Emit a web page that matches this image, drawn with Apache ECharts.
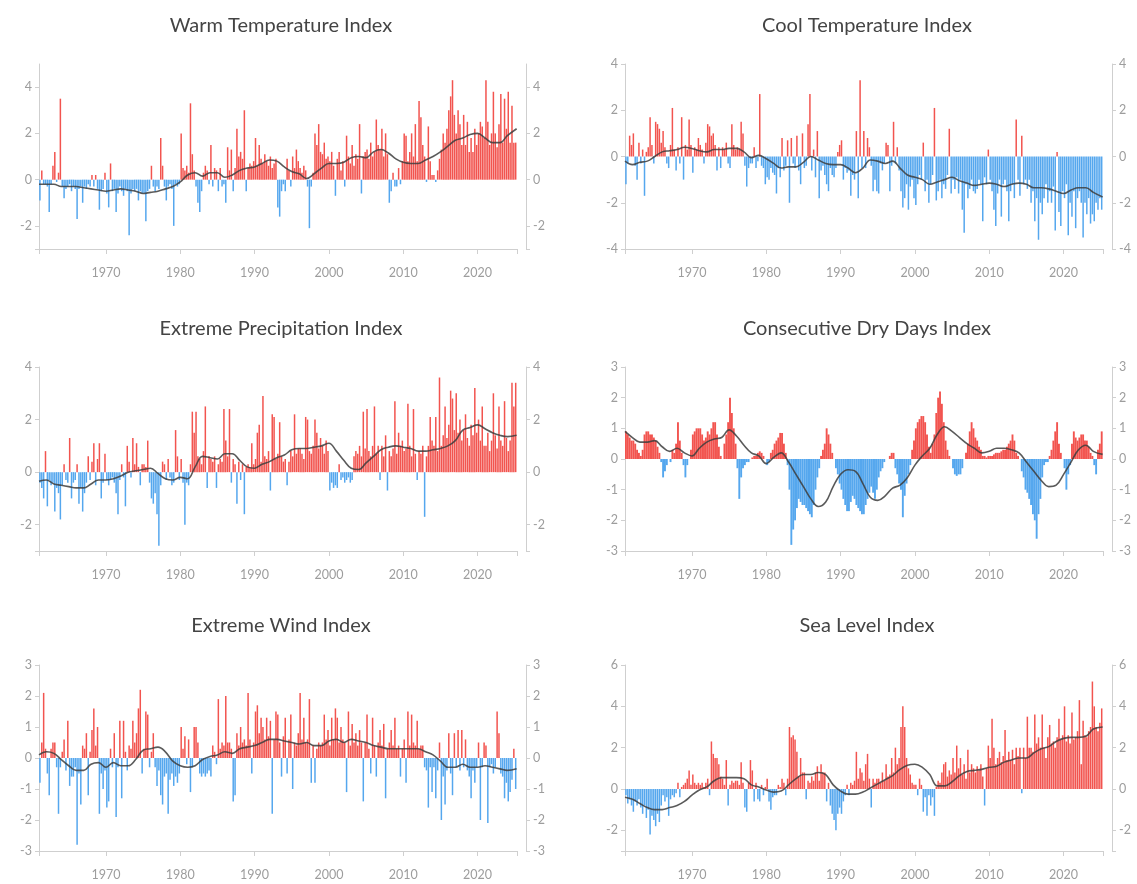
<!DOCTYPE html>
<html><head><meta charset="utf-8">
<script src="https://cdn.jsdelivr.net/npm/echarts@6/dist/echarts.min.js"></script>
<style>html,body{margin:0;padding:0;background:#fff}#c{width:1137px;height:884px}</style>
</head><body><div id="c"></div>
<script>
// Quarterly values, 1961 Q1 .. 2025 Q1 (one line per year)
const startYear = 1961;
const warmQ = [
-0.9,0.4,-0.2,-0.2, -0.3,-1.4,-0.2,0.6, 1.2,-0.1,0.3,3.5, -0.3,-0.8,-0.4,-0.3, -0.2,-0.5,-0.3,-0.4,
-1.7,-0.4,-0.3,-1.0, -0.3,-0.4,-0.2,-0.3, 0.2,-0.3,0.2,-0.4, -1.3,-0.5,-0.4,0.3,
-0.6,-1.2,0.7,-0.5, -0.4,-1.4,-0.6,-0.3, -0.5,-0.7,-0.4,-0.5, -2.4,-0.6,-0.4,-0.5, -0.4,-0.9,-0.5,-0.6,
-0.6,-1.8,-0.5,-0.4, 0.6,-0.3,-0.5,-0.3, -0.4,1.8,0.6,-0.3, -0.9,-0.3,-0.2,-0.4, -2.0,-0.2,-0.3,-0.2,
2.0,0.5,0.4,0.6, 0.3,3.3,1.1,0.4, -0.3,-1.0,-1.4,-0.5, 0.3,0.6,0.4,-0.2, 1.5,-0.3,0.5,0.4,
-0.5,0.5,-0.3,-0.2, -1.0,1.4,0.4,1.3, -0.5,0.5,2.2,1.0, 1.2,0.9,3.0,-0.5, 0.5,0.7,0.6,0.8,
1.8,0.6,1.5,0.9, 0.7,1.1,0.8,0.6, 1.0,0.5,0.7,0.9, -1.2,-1.6,-0.5,-0.2, -0.5,0.9,0.4,-0.3,
1.0,0.5,1.3,0.8, 0.5,0.3,0.6,0.4, -0.3,-2.1,-0.3,0.3, 2.0,1.5,2.4,1.2, 1.1,1.6,0.9,1.0,
0.8,1.2,0.6,-0.7, 0.9,1.2,0.4,0.8, -0.3,1.9,1.0,0.7, 1.5,0.6,1.1,0.9, 2.4,-0.6,1.0,1.2,
1.3,0.9,1.6,1.0, 1.2,2.6,1.5,1.3, 2.2,1.0,2.0,1.1, -1.0,-0.5,0.3,-0.3, -0.3,0.5,-0.2,0.8,
2.0,1.9,0.8,1.2, 2.0,1.0,2.4,0.8, 3.4,2.7,1.5,1.0, -0.1,2.3,0.8,0.2, 0.2,-0.1,0.4,0.9,
1.3,2.0,1.6,2.2, 3.0,3.6,4.3,2.8, 2.0,3.0,2.4,1.5, 2.8,1.5,2.5,1.2, 1.8,1.2,2.2,1.5,
2.0,2.5,2.3,1.8, 4.3,2.5,1.5,2.0, 3.8,2.0,1.4,2.4, 3.7,1.6,3.5,2.2, 3.8,1.6,3.2,1.6,
1.6];
const coolQ = [
-1.2,-0.3,0.9,0.5, 1.0,-0.4,-1.0,0.6, -0.3,0.3,-1.7,0.2, 0.4,1.7,0.5,-0.3, 1.5,1.4,1.2,0.6,
1.1,0.4,-0.3,-0.5, 0.5,2.1,0.3,-0.6, 0.4,-0.3,1.7,-1.0, 0.5,0.3,1.6,0.5,
-0.7,0.4,0.3,0.8, 0.5,0.3,-0.3,0.6, 1.4,1.3,0.9,1.0, 0.5,-0.6,0.4,-0.5, 0.4,0.3,0.6,-0.3,
-0.5,1.4,0.5,0.3, 0.4,0.3,1.5,1.0, -0.4,-1.3,-0.5,-0.3, -0.3,0.4,-0.5,-0.2, 2.7,-0.4,-0.5,-1.2,
-0.9,-1.0,-0.5,-0.7, -0.8,-1.6,-0.5,-0.9, 0.8,-0.6,-0.4,0.7, -2.0,0.8,-0.3,-0.5, 0.9,-0.6,-1.2,1.0,
-0.5,-0.4,1.4,2.7, -0.6,0.3,-0.9,1.1, -1.8,-0.6,-0.4,-0.8, -1.2,-1.5,-0.5,-0.8, -0.9,-0.5,0.2,0.5,
0.7,-1.0,-0.5,-0.7, -0.6,-1.7,-0.8,-1.0, 1.1,-1.8,3.3,-0.5, 1.1,-0.5,0.8,0.4, -0.4,-1.5,-1.0,-1.5,
-1.6,-0.3,-0.6,-0.3, 0.6,0.5,-1.5,-0.4, 1.5,-0.3,0.4,-0.6, -1.5,-2.2,-1.8,-1.2, -2.3,-1.3,-1.0,-1.8,
-2.1,-1.2,-0.8,-1.0, 0.6,-1.5,-1.0,-2.0, -1.2,-0.8,2.1,-1.9, -1.5,-1.0,-1.8,-1.2, -1.4,-0.8,1.2,-1.6,
-1.0,-1.4,-0.9,-1.6, -1.0,-2.3,-3.3,-1.2, -1.8,-1.4,-1.0,-1.5, -1.6,-1.4,-1.0,-1.2, -2.8,-0.9,-1.2,0.3,
-1.0,-1.5,-2.3,-3.0, -1.6,-1.0,-2.6,-1.2, -1.0,-1.5,-2.8,-1.5, -1.2,-1.8,1.6,-1.0, -1.7,0.9,-1.2,-1.0,
-1.4,-1.0,-2.0,-1.5, -2.8,-1.8,-3.6,-2.0, -2.5,-1.8,-1.2,-2.0, -1.5,-2.0,-1.3,-3.2, 0.2,-2.4,-3.0,-1.5,
-1.8,-1.2,-3.4,-2.0, -2.6,-1.5,-3.1,-1.8, -1.5,-2.0,-3.5,-2.0, -2.5,-1.8,-2.9,-2.5, -2.8,-2.0,-2.3,-1.8,
-2.3];
const precipQ = [
-0.4,-0.6,-1.0,0.8, -1.3,-0.3,-0.5,-0.4, -1.5,-0.6,-0.8,-1.8, -0.5,0.3,-0.3,-0.4, 1.3,-1.0,-0.4,-0.3,
0.3,-1.2,-0.6,-1.5, -0.8,-0.4,0.6,-0.3, 0.4,1.1,-0.5,0.5, 1.1,-1.0,-0.4,0.7,
-0.3,-0.5,-0.3,-0.2, -0.4,-0.8,-1.6,-0.3, 0.3,-0.2,-1.3,1.0, 0.4,-0.2,1.3,0.3, 1.1,0.2,-0.5,0.3,
0.3,0.2,1.2,-0.4, -1.0,-1.2,-0.8,-1.6, -2.8,-0.5,0.4,0.3, -0.3,0.5,-0.2,-0.5, -0.4,1.6,0.6,-0.3,
0.5,-0.4,-2.0,-0.4, -0.5,0.3,2.3,1.5, 2.3,0.6,0.5,0.3, 0.8,2.5,-0.6,0.6, 0.5,0.4,0.6,-0.6,
0.3,0.5,0.4,2.4, 1.2,0.6,2.4,-0.4, 0.5,0.3,-1.2,0.4, -0.3,0.3,-1.6,0.2, 0.3,0.2,1.1,0.3,
0.5,1.5,1.8,0.4, 2.9,0.6,0.5,0.8, -0.7,2.2,2.1,0.5, 0.7,1.9,0.6,0.4, 0.5,-0.5,0.4,0.8,
0.6,2.2,0.7,0.9, 0.9,0.7,0.5,2.1, 2.0,0.8,0.7,1.0, 2.0,1.5,0.9,1.3, 1.0,0.7,1.2,0.8,
-0.7,-0.4,-0.6,-0.5, -0.6,0.3,-0.3,-0.2, -0.4,-0.3,-0.2,-0.4, -0.3,0.6,0.8,0.7, 1.0,0.6,2.3,0.9,
2.4,0.8,0.6,1.0, 2.5,0.7,1.0,-0.3, 1.0,0.6,1.4,-0.7, 0.8,0.6,0.9,2.7, 0.7,1.5,1.0,1.2,
0.8,0.9,2.6,1.0, 0.6,2.4,0.7,-0.3, 0.8,0.7,1.0,-1.7, 0.6,1.0,2.1,1.2, 1.0,2.1,0.8,3.6,
1.0,1.4,2.5,1.3, 1.8,3.1,2.8,1.6, 3.0,1.5,2.0,1.2, 1.6,2.2,1.3,1.0, 1.8,1.4,3.2,1.5,
2.0,1.2,2.5,1.0, 1.0,1.5,0.8,1.2, 3.0,1.4,0.9,2.5, 1.2,1.0,2.7,1.3, 0.8,1.2,3.4,2.5,
3.4];
const dryQ = [
0.9,0.8,0.7,0.6, 0.6,0.5,0.3,0.2, 0.1,0.3,0.8,0.9, 0.9,0.8,0.8,0.7, 0.6,0.4,0.2,-0.1,
-0.6,-0.4,-0.2,0.0, -0.1,0.3,0.2,0.5, 1.2,0.6,0.2,-0.2, -0.6,-0.2,0.0,0.3,
0.8,0.9,1.0,1.0, 1.0,0.8,0.6,0.7, 0.9,0.8,1.0,1.2, 1.2,0.8,0.4,0.1, 0.0,0.5,0.8,1.2,
2.0,1.5,1.0,0.5, -0.3,-1.3,-0.6,-0.3, -0.2,-0.1,-0.1,0.0, 0.05,0.1,0.1,0.2, 0.25,0.2,0.1,0.0,
-0.2,-0.1,0.2,0.3, 0.5,0.6,0.7,0.85, 0.85,0.5,0.2,-0.2, -1.0,-2.8,-2.3,-2.0, -1.6,-1.3,-1.4,-1.5,
-1.5,-1.6,-1.7,-1.8, -1.9,-1.5,-1.0,-0.6, -0.3,0.1,0.3,0.5, 1.0,0.8,0.5,0.2, 0.0,-0.3,-0.5,-0.8,
-1.0,-1.3,-1.5,-1.7, -1.7,-1.4,-1.2,-1.3, -1.5,-1.6,-1.7,-1.8, -1.8,-1.5,-1.3,-1.1, -0.9,-1.1,-1.3,-1.0,
-0.6,-0.4,-0.3,-0.1, 0.0,0.0,0.1,0.2, 0.2,-0.3,-0.5,-0.8, -1.0,-1.9,-1.2,-0.8, -0.5,-0.2,0.3,0.6,
1.0,1.2,1.3,1.4, 1.4,1.2,0.8,0.4, 0.2,0.5,0.8,1.5, 2.0,2.2,1.8,1.2, 0.6,0.3,0.1,0.0,
-0.3,-0.5,-0.55,-0.5, -0.5,-0.3,0.0,0.2, 0.5,0.9,1.2,1.0, 0.7,0.6,0.4,0.3, 0.1,0.1,0.05,0.1,
0.1,0.1,0.15,0.2, 0.2,0.2,0.25,0.3, 0.3,0.4,0.5,0.6, 0.8,0.6,0.2,0.1, 0.0,-0.4,-0.6,-1.0,
-1.1,-1.3,-1.5,-1.8, -2.0,-2.6,-1.8,-1.3, -0.6,-0.2,-0.1,-0.1, 0.1,0.3,0.6,0.9, 1.2,0.5,0.2,0.0,
-0.3,-1.0,-0.5,-0.2, 0.5,0.9,0.7,0.6, 0.7,0.8,0.8,0.6, 0.6,0.4,0.2,0.1, -0.2,-0.5,0.3,0.5,
0.9];
const windQ = [
-0.8,0.5,2.1,0.3, -0.5,-1.2,0.3,0.5, 0.5,-0.3,-1.8,-0.3, 0.2,0.6,-0.4,1.2, -0.9,-0.6,-0.6,-0.3,
-2.8,-0.5,-1.5,0.4, 0.3,0.8,-1.2,0.2, 0.9,1.6,0.4,1.0, -1.8,-0.5,-1.0,-0.4,
-1.6,-1.4,0.3,-0.3, 0.8,-1.9,-0.3,1.2, -1.3,1.2,0.2,-0.4, 0.4,0.3,1.2,0.5, 0.8,1.6,2.2,-0.5,
0.3,1.5,1.4,-0.3, 0.2,0.8,-0.3,-0.9, -0.4,-1.2,-1.5,-0.6, -0.5,-1.8,-0.7,-0.5, -0.9,-0.6,-0.8,-0.5,
1.0,0.3,0.7,-0.2, 0.6,-1.1,-0.3,1.0, 1.0,0.5,-0.5,-0.6, -0.5,-0.6,-0.5,-0.4, -0.6,0.4,0.2,-0.2,
1.9,0.3,0.5,0.4, 2.0,0.5,0.5,0.3, -1.4,-1.2,0.8,0.4, 1.0,0.5,0.6,0.4, 2.1,0.6,-0.5,0.5,
1.5,1.7,0.8,1.3, 1.0,0.6,1.3,0.7, 1.2,-1.8,0.6,1.5, 1.4,0.5,-0.6,0.7, 1.3,-0.5,0.6,1.4,
-1.0,0.5,0.4,0.8, 2.1,0.6,1.3,0.5, 0.6,1.9,-0.8,0.4, -0.8,0.3,0.5,0.4, 0.5,1.4,0.6,0.9,
0.4,1.3,0.6,1.6, 1.3,0.5,1.0,0.6, 0.5,-1.1,1.5,0.4, 1.1,0.5,0.8,0.4, 0.9,0.5,-1.4,0.5,
1.4,0.3,-0.5,1.3, 0.4,-0.6,0.5,0.9, 0.4,1.1,-1.3,0.3, 0.5,0.9,0.4,1.3, 0.3,0.4,-0.6,0.3,
0.6,-0.8,1.5,0.4, 1.4,0.5,0.4,1.2, 0.3,0.4,0.4,-0.3, -0.4,-1.6,-0.3,-1.1, -0.3,-1.3,-0.4,0.5,
-2.0,-0.6,-1.5,-0.4, 0.8,-0.5,-1.2,0.8, -0.3,0.9,-0.4,0.9, -0.3,0.6,-0.4,-0.6, -1.3,-0.4,-0.8,-0.3,
0.5,-2.0,-0.3,0.5, 0.4,-2.1,-0.3,-0.2, -0.5,-0.3,1.5,0.8, -0.5,-0.6,-1.3,-0.8, -1.4,-1.1,-0.7,0.3,
-1.0];
const seaQ = [
-0.3,-0.7,-0.5,-0.8, -1.1,-0.6,-0.8,-0.5, -0.9,-1.2,-0.8,-1.4, -1.0,-2.2,-1.3,-1.5, -1.8,-1.2,-1.6,-0.8,
-0.3,-0.6,-0.4,-1.3, -0.5,-0.3,-0.4,-0.2, 0.3,-0.4,0.1,0.2, 0.3,0.5,0.9,0.2,
0.7,0.3,0.2,0.3, 0.2,0.3,0.1,0.3, 0.5,-0.3,2.3,1.7, 1.5,1.5,1.2,0.6, 0.5,0.2,1.4,-0.8,
0.2,0.4,0.3,0.4, 0.4,0.2,1.3,0.3, -0.9,-1.1,0.3,1.4, 0.9,-0.6,0.3,-0.5, -0.6,0.2,-0.3,0.1,
0.5,-0.6,-1.0,-0.4, -0.3,-0.3,0.2,0.1, 0.5,0.3,-0.3,0.5, 3.0,2.5,2.6,2.4, 1.8,0.6,1.5,0.8,
0.8,-0.5,0.4,0.3, 0.6,0.4,0.8,1.1, 0.4,1.2,0.8,0.8, -0.6,0.3,-0.8,-1.2, -1.5,-2.0,-1.2,-0.9,
-1.2,-0.6,-0.3,0.2, -0.3,0.3,0.2,0.4, 1.8,0.5,1.0,0.8, 0.4,1.2,1.7,0.5, -0.9,0.5,0.3,0.5,
0.5,0.3,0.8,0.4, 1.2,0.6,0.7,1.5, 0.8,2.0,1.2,1.5, 3.0,4.0,3.0,1.5, 1.0,0.7,0.3,0.2,
0.2,-0.3,0.5,0.2, -1.1,-0.4,-1.3,-0.3, -0.8,-0.4,-1.3,0.1, 0.4,0.3,0.8,1.2, 1.3,0.6,0.9,0.7,
1.5,0.8,2.1,1.0, 1.5,0.7,1.2,0.5, 1.9,0.8,1.2,1.0, 0.8,1.1,0.9,1.2, 0.6,-0.8,1.0,2.1,
1.5,3.4,2.0,1.2, 1.5,1.8,1.3,1.6, 2.85,1.4,1.8,1.4, 1.9,1.2,2.0,1.6, 2.0,-0.2,2.0,1.5,
3.5,2.0,2.0,1.8, 3.6,2.2,2.5,2.0, 3.6,2.0,1.5,2.5, 3.1,2.2,2.3,2.0, 2.5,3.4,2.4,2.6,
4.0,2.3,2.6,2.2, 3.7,2.4,2.5,2.8, 4.3,1.2,3.3,2.6, 2.5,2.8,3.0,5.2, 4.0,3.0,2.8,3.2,
3.9];

// Smoothed (moving-average) lines, one value per year 1961..2025
const warmMA = [-0.2,-0.2,-0.2,-0.3,-0.3,-0.3,-0.35,-0.4,-0.45,-0.5,-0.45,-0.4,-0.45,-0.5,-0.6,-0.55,-0.5,-0.4,-0.3,-0.1,
0.2,0.3,0.15,0.3,0.3,0.1,0.2,0.4,0.5,0.55,0.7,0.85,0.8,0.55,0.35,0.25,0.05,0.25,0.5,0.7,
0.7,0.75,0.95,1.0,0.95,1.2,1.3,1.15,0.9,0.75,0.7,0.7,0.85,1.0,1.2,1.45,1.7,1.8,1.95,2.0,
1.8,1.6,1.6,1.9,2.2];
const coolMA = [-0.2,-0.35,-0.25,-0.2,0.0,0.2,0.25,0.3,0.4,0.35,0.25,0.2,0.3,0.3,0.35,0.35,0.2,-0.05,0.05,-0.1,
-0.3,-0.5,-0.45,-0.45,-0.25,0.0,-0.15,-0.3,-0.35,-0.35,-0.5,-0.7,-0.5,-0.15,-0.2,-0.3,-0.2,-0.5,-0.8,-0.9,
-1.0,-1.2,-1.1,-1.0,-0.9,-1.05,-1.15,-1.25,-1.2,-1.15,-1.2,-1.3,-1.2,-1.15,-1.2,-1.35,-1.35,-1.4,-1.5,-1.6,
-1.45,-1.35,-1.35,-1.55,-1.75];
const precipMA = [-0.35,-0.3,-0.45,-0.5,-0.55,-0.6,-0.6,-0.45,-0.3,-0.3,-0.25,-0.15,0.0,0.05,0.1,0.15,-0.05,-0.25,-0.3,-0.2,
-0.25,0.2,0.6,0.55,0.5,0.7,0.7,0.45,0.2,0.15,0.3,0.4,0.55,0.65,0.85,0.9,0.9,0.95,1.0,1.1,
0.8,0.45,0.15,0.1,0.35,0.6,0.85,0.95,1.0,0.95,0.9,0.8,0.8,0.85,0.9,1.0,1.2,1.6,1.7,1.8,
1.65,1.5,1.4,1.35,1.4];
const dryMA = [0.9,0.7,0.55,0.55,0.6,0.4,0.25,0.35,0.2,0.1,0.35,0.55,0.65,0.7,0.95,0.75,0.45,0.2,0.1,-0.15,
0.05,0.2,-0.1,-0.5,-0.9,-1.3,-1.55,-1.4,-0.9,-0.5,-0.35,-0.4,-0.8,-1.25,-1.35,-1.2,-0.95,-0.85,-0.6,-0.2,
0.1,0.35,0.8,1.05,0.9,0.7,0.5,0.35,0.2,0.25,0.35,0.35,0.3,0.2,-0.1,-0.4,-0.7,-0.9,-0.85,-0.5,
-0.1,0.3,0.45,0.25,0.15];
const windMA = [0.1,0.2,0.15,-0.05,-0.25,-0.4,-0.4,-0.2,-0.15,-0.3,-0.15,-0.25,-0.25,-0.05,0.25,0.3,0.35,0.2,-0.1,-0.25,
-0.3,-0.25,-0.05,0.05,0.1,0.2,0.15,0.3,0.35,0.4,0.5,0.6,0.6,0.55,0.5,0.45,0.5,0.4,0.4,0.55,
0.6,0.5,0.6,0.55,0.5,0.4,0.35,0.3,0.3,0.3,0.3,0.3,0.2,0.1,-0.1,-0.3,-0.3,-0.2,-0.3,-0.3,
-0.25,-0.3,-0.35,-0.4,-0.35];
const seaMA = [-0.4,-0.5,-0.7,-0.9,-1.0,-1.0,-0.9,-0.8,-0.6,-0.3,-0.05,0.1,0.4,0.55,0.55,0.55,0.5,0.2,0.1,-0.05,
-0.15,-0.1,0.2,0.5,0.7,0.7,0.8,0.7,0.2,-0.1,-0.25,-0.25,-0.15,0.05,0.25,0.45,0.65,0.95,1.15,1.2,
1.05,0.7,0.15,0.15,0.35,0.65,0.85,0.9,0.95,1.05,1.1,1.3,1.4,1.5,1.5,1.75,1.95,2.05,2.3,2.45,
2.5,2.5,2.55,2.9,3.0];

// Axis tick labels
const yearLabels = [1970, 1980, 1990, 2000, 2010, 2020];
const warmTicks = [-2, 0, 2, 4];
const coolTicks = [-4, -2, 0, 2, 4];
const precipTicks = [-2, 0, 2, 4];
const dryTicks = [-3, -2, -1, 0, 1, 2, 3];
const windTicks = [-3, -2, -1, 0, 1, 2, 3];
const seaTicks = [-2, 0, 2, 4, 6];

const titles = ['Warm Temperature Index','Cool Temperature Index','Extreme Precipitation Index',
  'Consecutive Dry Days Index','Extreme Wind Index','Sea Level Index'];

const panels = [
  {q: warmQ, ma: warmMA, min: -3, max: 5, ticks: warmTicks},
  {q: coolQ, ma: coolMA, min: -4, max: 4, ticks: coolTicks},
  {q: precipQ, ma: precipMA, min: -3, max: 4, ticks: precipTicks},
  {q: dryQ, ma: dryMA, min: -3, max: 3, ticks: dryTicks},
  {q: windQ, ma: windMA, min: -3, max: 3, ticks: windTicks},
  {q: seaQ, ma: seaMA, min: -3, max: 6, ticks: seaTicks}
];

const X_MIN = 1961, X_MAX = 2025.3;
const colLeft = [39, 625];
const gridW = 478;
const rows = [{top: 64, h: 185, title: 16}, {top: 367, h: 184, title: 319}, {top: 665, h: 186, title: 616}];
const RED = '#f2544f', BLUE = '#55a7ee';
const axisGray = '#cfcfcf', labelGray = '#9d9d9d';
const FONT = 'Lato, "Open Sans", sans-serif';

const grid = [], xAxis = [], yAxis = [], series = [], title = [];
panels.forEach((p, k) => {
  const col = k % 2, row = Math.floor(k / 2);
  const left = colLeft[col], top = rows[row].top, h = rows[row].h;
  grid.push({left: left, top: top, width: gridW, height: h, containLabel: false});
  title.push({text: titles[k], left: left + gridW / 2 + 3, top: rows[row].title, textAlign: 'center', padding: 0,
    textStyle: {fontFamily: FONT, fontSize: 20, fontWeight: 'normal', color: '#444'}});
  xAxis.push({gridIndex: k, type: 'value', min: X_MIN, max: X_MAX,
    axisLine: {onZero: false, lineStyle: {color: axisGray, width: 1}},
    axisTick: {show: true, length: 5, lineStyle: {color: axisGray}, customValues: [X_MIN].concat(yearLabels, [X_MAX])},
    axisLabel: {customValues: yearLabels, formatter: v => String(v), color: labelGray, fontSize: 12.5, fontFamily: FONT, margin: 17},
    splitLine: {show: false}});
  const tickVals = p.ticks.slice();
  if (tickVals.indexOf(p.min) < 0) tickVals.unshift(p.min);
  ['left', 'right'].forEach(pos => {
    yAxis.push({gridIndex: k, type: 'value', min: p.min, max: p.max, position: pos, offset: pos === 'right' ? 9 : 0,
      axisLine: {show: true, onZero: false, lineStyle: {color: axisGray, width: 1}},
      axisTick: {show: true, length: 4, lineStyle: {color: axisGray}, customValues: tickVals},
      axisLabel: {customValues: p.ticks, color: labelGray, fontSize: 12.5, fontFamily: FONT, margin: 7},
      splitLine: {show: false}});
  });
  const yIdx = k * 2;
  series.push({type: 'bar', xAxisIndex: k, yAxisIndex: yIdx, barWidth: k === 3 ? 1.9 : 1.5,
    data: p.q.map((v, i) => [startYear + i * 0.25 + 0.125, v]),
    itemStyle: {color: prm => prm.value[1] >= 0 ? RED : BLUE},
    silent: true});
  series.push({type: 'line', xAxisIndex: k, yAxisIndex: yIdx, smooth: 0.4, showSymbol: false,
    data: p.ma.map((v, i) => [startYear + i + (i === p.ma.length - 1 ? 0.25 : 0), v]),
    lineStyle: {color: '#3d3d3d', width: 1.6, opacity: 0.85}, z: 5, silent: true});
});

const chart = echarts.init(document.getElementById('c'), null, {renderer: 'canvas'});
chart.setOption({animation: false, backgroundColor: '#fff', title, grid, xAxis, yAxis, series});
</script>
</body></html>
